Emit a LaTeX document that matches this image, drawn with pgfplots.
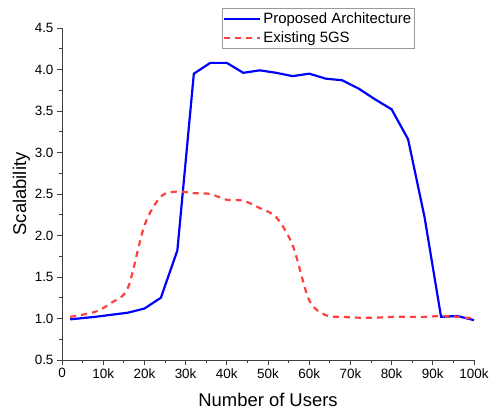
\documentclass[border=0pt]{standalone}
\usepackage{pgfplots}
\pgfplotsset{compat=1.18}
\usepackage{fontspec}
\setmainfont{Liberation Sans}
\definecolor{pblue}{RGB}{0,0,255}
\definecolor{ered}{RGB}{255,64,64}
\begin{document}
\begin{tikzpicture}[x=1bp,y=1bp]
\useasboundingbox (-62,-56) rectangle (427,360);
\begin{axis}[
  scale only axis, width=412bp, height=332bp,
  xmin=0, xmax=100000, ymin=0.5, ymax=4.5,
  axis lines*=left,
  axis line style={line width=0.8pt, black!75},
  xtick={0,10000,...,100000},
  xticklabels={0,10k,20k,30k,40k,50k,60k,70k,80k,90k,100k},
  ytick={0.5,1.0,...,4.5},
  yticklabel style={/pgf/number format/.cd, fixed, fixed zerofill, precision=1},
  /pgf/number format/assume math mode=true,
  minor x tick num=1, minor y tick num=1,
  tick align=outside,
  major tick length=5bp, minor tick length=3bp,
  tick style={line width=0.8pt, black!75},
  ticklabel style={font=\fontsize{13.5}{15}\selectfont},
  scaled x ticks=false,
  xlabel={Number of Users}, ylabel={Scalability},
  label style={font=\fontsize{18.5}{20}\selectfont},
  xlabel style={yshift=-8bp},
  ylabel style={yshift=-2bp},
  legend style={at={(0.388,1.06)}, anchor=north west, draw=black!40, line width=0.6pt,
    font=\fontsize{15}{16}\selectfont, inner xsep=1pt, inner ysep=2.5pt, row sep=2.5pt,
    legend cell align=left},
  legend image code/.code={\draw[#1] (0bp,0bp) -- (36bp,0bp);},
  clip=false,
]
\addplot[pblue, line width=2.2pt] coordinates {
(2000,0.99) (8000,1.02) (16000,1.07) (20000,1.12) (24000,1.25) (28000,1.82)
(32000,3.95) (36000,4.08) (40000,4.08) (44000,3.96) (48000,3.99) (52000,3.96)
(56000,3.92) (60000,3.95) (64000,3.89) (68000,3.87) (72000,3.77) (76000,3.64)
(80000,3.52) (84000,3.16) (88000,2.22) (92000,1.02) (96000,1.03) (100000,0.98)};
\addlegendentry{Proposed Architecture}
\addplot[ered, line width=2.2pt, dash pattern=on 6bp off 5bp, smooth, tension=0.5] coordinates {
(2000,1.02) (8000,1.08) (12000,1.19) (16000,1.37) (20000,2.12) (24000,2.47)
(28000,2.53) (32000,2.51) (36000,2.50) (40000,2.43) (44000,2.42) (48000,2.33)
(52000,2.22) (56000,1.88) (60000,1.22) (64000,1.04) (68000,1.02) (72000,1.01)
(76000,1.01) (80000,1.02) (84000,1.02) (88000,1.02) (92000,1.03) (96000,1.02) (100000,1.00)};
\addlegendentry{Existing 5GS}
\end{axis}
\end{tikzpicture}
\end{document}
